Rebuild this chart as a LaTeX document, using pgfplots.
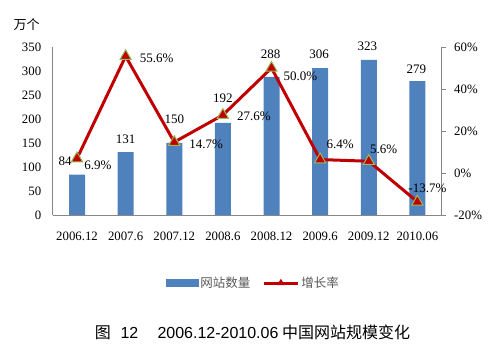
\documentclass[border=0pt]{standalone}
\usepackage{pgfplots}
\pgfplotsset{compat=1.18}
\usepackage{fontspec}
\setmainfont{Liberation Serif}
\newfontfamily\cjk{Noto Sans CJK SC}
\newfontfamily\arial{Liberation Sans}
\definecolor{barblue}{HTML}{4F81BD}
\definecolor{linered}{HTML}{C00000}
\definecolor{markedge}{HTML}{9BBB59}
\definecolor{axisgray}{HTML}{868686}
\definecolor{legtext}{HTML}{595959}
\pgfplotsset{
  myline legend/.style={legend image code/.code={\draw[##1, mark repeat=2, mark phase=2, mark options={mark size=3.5pt, line width=0.8pt}] plot coordinates {(0pt,0pt) (17pt,0pt) (34pt,0pt)};}},
  mybar legend/.style={legend image code/.code={\fill[barblue] (0pt,-3.5pt) rectangle (32pt,3.5pt);}},
}
\begin{document}
\begin{tikzpicture}
\useasboundingbox (0,0) rectangle (502pt,352pt);
\begin{axis}[
  at={(52.7pt,137pt)}, anchor=south west,
  scale only axis, width=389pt, height=168pt,
  xmin=-0.5, xmax=7.5, ymin=0, ymax=350,
  axis x line*=bottom, axis y line*=left,
  axis line style={draw=axisgray, line width=0.6pt},
  xtick={0,...,7},
  xticklabels={2006.12,2007.6,2007.12,2008.6,2008.12,2009.6,2009.12,2010.06},
  ytick={0,50,...,350},
  yticklabels={0,50,100,150,200,250,300,350},
  tick style={draw=none},
  /pgf/number format/assume math mode=true,
  ticklabel style={font=\fontsize{12.8}{15}\selectfont},
  yticklabel style={xshift=-8pt},
  xticklabel style={yshift=-13pt},
  clip=false,
]
\addplot[ybar, bar width=16pt, fill=barblue, draw=none, bar shift=0pt]
  coordinates {(0,84) (1,131) (2,150) (3,192) (4,288) (5,306) (6,323) (7,279)};
\begin{scope}[every node/.style={font=\fontsize{13}{15}\selectfont, inner sep=0pt, anchor=center}]
\node[xshift=-12pt, yshift=13.7pt] at (axis cs:0,84) {84};
\node[xshift=0pt, yshift=13pt] at (axis cs:1,131) {131};
\node[xshift=0pt, yshift=24pt] at (axis cs:2,150) {150};
\node[xshift=0pt, yshift=25pt] at (axis cs:3,192) {192};
\node[xshift=-1pt, yshift=23pt] at (axis cs:4,288) {288};
\node[xshift=-1pt, yshift=14pt] at (axis cs:5,306) {306};
\node[xshift=-1.5pt, yshift=14pt] at (axis cs:6,323) {323};
\node[xshift=-1pt, yshift=12pt] at (axis cs:7,279) {279};
\end{scope}
\node[font=\cjk\fontsize{13}{15}\selectfont, anchor=center] at (rel axis cs:-0.067,1.131) {万个};
\end{axis}
\begin{axis}[
  at={(52.7pt,137pt)}, anchor=south west,
  scale only axis, width=389pt, height=168pt,
  xmin=-0.5, xmax=7.5, ymin=-20, ymax=60,
  axis x line=none, axis y line*=right,
  axis line style={draw=axisgray, line width=0.6pt},
  ytick={-20,0,20,40,60},
  yticklabels={-20\%,0\%,20\%,40\%,60\%},
  tick align=outside, major tick length=4pt,
  ytick style={draw=axisgray, line width=0.6pt},
  /pgf/number format/assume math mode=true,
  ticklabel style={font=\fontsize{12.8}{15}\selectfont},
  yticklabel style={xshift=5pt},
  clip=false,
  legend style={at={(0.516,-0.405)}, anchor=center, draw=none, fill=none,
    legend columns=2, font=\cjk\fontsize{12.5}{14}\selectfont, text=legtext,
    /tikz/every even column/.append style={column sep=10pt},
    inner sep=0pt},
]
\addlegendimage{mybar legend}
\addlegendentry{网站数量}
\addplot[color=linered, line width=3pt,
  mark=triangle*, mark options={fill=linered, draw=markedge, line width=1pt, mark size=6.5pt},
  myline legend]
  coordinates {(0,6.9) (1,55.6) (2,14.7) (3,27.6) (4,50.0) (5,6.4) (6,5.6) (7,-13.7)};
\addlegendentry{增长率}
\begin{scope}[every node/.style={font=\fontsize{13}{15}\selectfont, inner sep=0pt, anchor=center}]
\node[xshift=21pt, yshift=-6.5pt] at (axis cs:0,6.9) {6.9\%};
\node[xshift=31pt, yshift=-2pt] at (axis cs:1,55.6) {55.6\%};
\node[xshift=32pt, yshift=-2pt] at (axis cs:2,14.7) {14.7\%};
\node[xshift=31pt, yshift=-1pt] at (axis cs:3,27.6) {27.6\%};
\node[xshift=29pt, yshift=-8pt] at (axis cs:4,50.0) {50.0\%};
\node[xshift=20pt, yshift=15.6pt] at (axis cs:5,6.4) {6.4\%};
\node[xshift=15pt, yshift=12pt] at (axis cs:6,5.6) {5.6\%};
\node[xshift=10pt, yshift=13pt] at (axis cs:7,-13.7) {-13.7\%};
\end{scope}
\end{axis}
\node[anchor=center, inner sep=0pt] at (252.5pt,20pt)
  {\cjk\fontsize{16}{18}\selectfont 图\hspace{0.6em}{\arial 12}\hspace{1.2em}{\arial 2006.12-2010.06} 中国网站规模变化};
\end{tikzpicture}
\end{document}
